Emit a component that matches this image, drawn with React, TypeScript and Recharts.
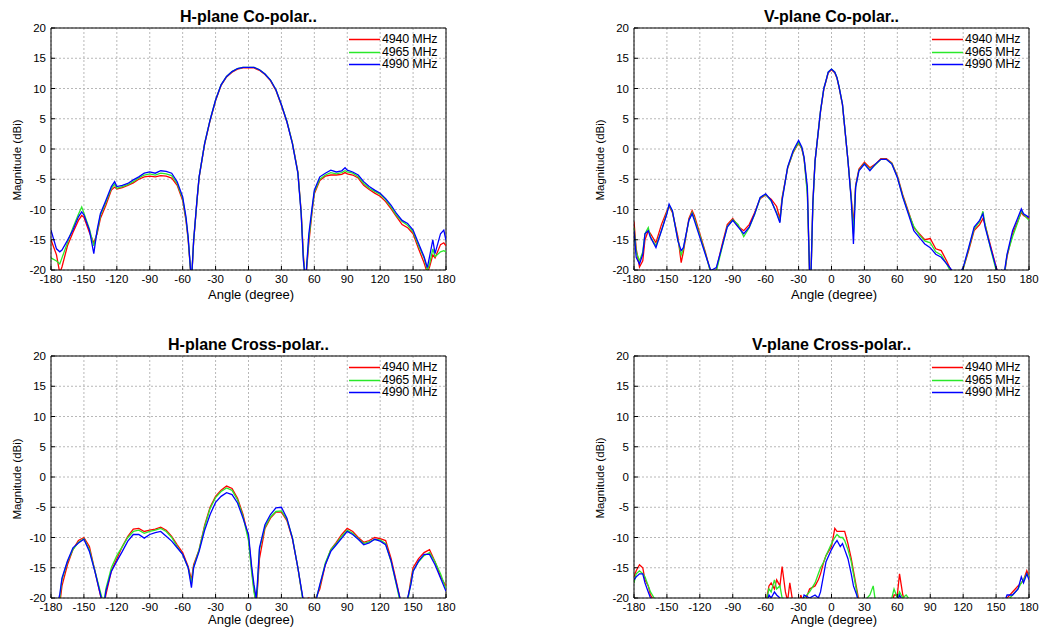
import React from "react";
import { LineChart, Line, XAxis, YAxis, CartesianGrid, ReferenceLine } from "recharts";

const FONT = '"Liberation Sans", Arial, sans-serif';

const xTicks = [-180, -150, -120, -90, -60, -30, 0, 30, 60, 90, 120, 150, 180];
const yTicks = [-20, -15, -10, -5, 0, 5, 10, 15, 20];
const seriesNames = ["4940 MHz", "4965 MHz", "4990 MHz"];
const seriesKeys = ["f4940", "f4965", "f4990"];
const seriesColors = ["#ff0000", "#2ae82a", "#0000ff"];

// H-plane Co-polar
const hCoAngles = [
  -180, -175, -172, -170, -165, -160, -155, -152, -150, -145,
  -141, -138, -135, -130, -125, -122, -120, -115, -110, -105,
  -100, -95, -90, -85, -80, -75, -70, -65, -60, -57,
  -55, -52, -50, -47, -45, -40, -35, -30, -25, -20,
  -15, -10, -5, 0, 5, 10, 15, 20, 25, 30,
  35, 40, 45, 48, 50, 52, 55, 58, 60, 65,
  70, 75, 80, 85, 88, 90, 95, 100, 105, 110,
  115, 120, 125, 130, 135, 140, 145, 150, 155, 160,
  163, 165, 168, 170, 175, 178, 180,
];
const hCo4940 = [
  -15.0, -17.5, -20.5, -19.5, -16.0, -13.8, -11.8, -11.0, -11.3, -13.8,
  -15.5, -14.0, -11.5, -9.3, -6.8, -6.3, -6.6, -6.4, -6.0, -5.6,
  -5.0, -4.6, -4.5, -4.6, -4.4, -4.5, -4.8, -6.0, -8.5, -11.8,
  -15.0, -22, -15.3, -8.7, -4.7, 0.8, 4.7, 8.0, 10.5, 11.9,
  12.7, 13.2, 13.4, 13.4, 13.4, 13.0, 12.3, 11.3, 9.7, 7.2,
  4.5, 1.0, -3.8, -10.3, -17.5, -22, -15.5, -10.3, -7.4, -5.2,
  -4.5, -4.3, -4.3, -4.2, -3.9, -4.1, -4.3, -4.8, -6.0, -6.7,
  -7.3, -7.8, -8.7, -9.9, -11.2, -12.5, -13.0, -14.0, -16.5, -18.8,
  -20.5, -19.5, -17.5, -18.0, -15.8, -15.5, -16.0,
];
const hCo4965 = [
  -18.0, -18.5, -19.0, -18.0, -15.5, -13.0, -10.8, -9.6, -10.6, -13.2,
  -16.0, -13.8, -11.0, -8.8, -6.5, -5.8, -6.5, -6.2, -5.9, -5.4,
  -4.8, -4.3, -4.1, -4.3, -4.0, -4.1, -4.4, -5.7, -8.2, -11.5,
  -14.8, -22, -15.2, -8.6, -4.6, 0.9, 4.8, 8.1, 10.6, 12.0,
  12.8, 13.3, 13.5, 13.5, 13.5, 13.1, 12.4, 11.4, 9.8, 7.3,
  4.6, 1.0, -3.9, -10.5, -18.0, -22, -14.8, -10.0, -7.1, -5.0,
  -4.3, -3.9, -4.1, -3.9, -3.6, -3.8, -4.0, -4.6, -5.7, -6.5,
  -7.0, -7.5, -8.4, -9.6, -11.0, -12.0, -12.6, -13.7, -16.0, -18.0,
  -20.0, -19.0, -16.5, -17.8, -17.0, -16.8, -17.0,
];
const hCo4990 = [
  -13.4, -16.5, -17.0, -16.7, -15.1, -13.4, -11.2, -10.4, -10.9, -13.4,
  -17.3, -13.4, -10.7, -8.5, -6.2, -5.4, -6.2, -6.0, -5.7, -5.1,
  -4.6, -4.0, -3.8, -4.0, -3.6, -3.7, -4.0, -5.4, -7.9, -11.2,
  -14.5, -22, -15.1, -8.5, -4.6, 0.9, 4.8, 8.1, 10.6, 12.0,
  12.8, 13.3, 13.5, 13.5, 13.5, 13.1, 12.4, 11.4, 9.8, 7.3,
  4.5, 0.9, -4.0, -10.7, -18.4, -22, -14.0, -9.6, -6.8, -4.6,
  -4.0, -3.5, -3.8, -3.6, -3.1, -3.5, -3.8, -4.3, -5.4, -6.2,
  -6.8, -7.3, -8.2, -9.3, -10.7, -11.8, -12.3, -13.4, -15.6, -17.8,
  -19.6, -17.8, -15.0, -17.3, -14.0, -13.4, -15.1,
];

// V-plane Co-polar
const vCoAngles = [
  -180, -178, -175, -172, -170, -167, -165, -160, -155, -150,
  -148, -145, -140, -137, -135, -130, -127, -125, -120, -115,
  -110, -105, -100, -95, -90, -85, -80, -75, -70, -65,
  -60, -55, -50, -47, -45, -40, -35, -30, -27, -25,
  -22, -20, -19, -17, -15, -10, -7, -5, -3, 0, 3, 5, 7, 10,
  15, 18, 20, 22, 25, 30, 35, 40, 45, 50,
  55, 60, 65, 70, 75, 80, 85, 90, 95, 100,
  105, 110, 115, 120, 125, 130, 135, 138, 140, 145,
  150, 153, 155, 157, 160, 165, 170, 173, 175, 180,
];
const vCo4940 = [
  -12.0, -16.5, -19.5, -18.5, -15.0, -13.5, -14.0, -15.5, -12.5, -10.2,
  -9.5, -10.5, -14.5, -18.8, -17.0, -11.5, -10.2, -11.0, -14.0, -17.0,
  -20.5, -20.0, -16.0, -12.5, -11.5, -12.8, -13.5, -12.5, -10.5, -8.2,
  -7.6, -8.3, -9.5, -11.5, -8.0, -3.2, -0.6, 1.0, 0.0, -1.6,
  -7.0, -20.5, -23, -9.0, -2.0, 6.2, 9.9, 11.2, 12.6, 13.1, 12.6, 11.7, 10.1, 7.3,
  -1.9, -8.0, -12.5, -6.0, -3.3, -2.2, -3.1, -2.5, -1.6, -1.6,
  -2.3, -4.4, -7.6, -10.3, -13.0, -14.0, -15.0, -14.8, -16.5, -16.8,
  -18.5, -20.5, -21.5, -19.8, -16.8, -13.5, -12.5, -11.5, -12.5, -16.0,
  -19.5, -21.0, -20.5, -21.5, -17.8, -14.0, -11.8, -10.5, -11.0, -11.5,
];
const vCo4965 = [
  -13.0, -17.0, -18.5, -17.0, -14.0, -13.0, -14.5, -16.0, -13.5, -10.5,
  -9.3, -10.3, -15.0, -17.5, -16.5, -11.8, -10.5, -11.5, -14.3, -17.2,
  -20.5, -20.2, -16.5, -12.8, -11.7, -12.5, -14.5, -13.0, -10.8, -8.1,
  -7.5, -8.6, -10.5, -12.0, -8.3, -3.1, -0.5, 1.1, 0.1, -1.5,
  -7.5, -20.5, -23, -9.5, -2.0, 6.3, 10.0, 11.3, 12.7, 13.2, 12.7, 11.8, 10.2, 7.4,
  -1.9, -8.2, -14.0, -6.2, -3.5, -2.4, -3.4, -2.6, -1.7, -1.7,
  -2.4, -4.6, -7.8, -10.5, -12.8, -14.2, -15.2, -15.5, -17.0, -17.5,
  -19.0, -20.8, -21.5, -19.8, -16.5, -13.2, -12.0, -10.3, -12.5, -16.5,
  -20.0, -21.5, -21.0, -21.5, -17.5, -14.5, -12.0, -10.2, -10.8, -11.8,
];
const vCo4990 = [
  -13.5, -17.9, -19.0, -17.4, -14.0, -13.5, -14.6, -16.3, -13.5, -10.7,
  -9.1, -10.2, -15.2, -16.8, -16.3, -11.8, -10.7, -11.8, -14.6, -17.4,
  -20.1, -19.6, -16.3, -12.9, -11.8, -12.9, -14.0, -12.9, -10.7, -8.0,
  -7.4, -8.5, -10.7, -12.2, -8.5, -3.0, -0.3, 1.4, 0.3, -1.4,
  -6.3, -20.5, -23, -9.0, -2.0, 6.3, 10.0, 11.3, 12.7, 13.2, 12.7, 11.8, 10.2, 7.4,
  -1.9, -8.5, -15.7, -6.3, -3.6, -2.5, -3.6, -2.5, -1.7, -1.7,
  -2.5, -4.7, -8.0, -10.7, -13.5, -14.6, -15.7, -16.3, -17.4, -17.9,
  -19.0, -20.1, -21.0, -19.6, -16.3, -12.9, -11.8, -10.7, -12.9, -16.3,
  -19.6, -21.0, -20.1, -21.0, -17.4, -13.5, -11.3, -9.9, -10.7, -11.3,
];

// H-plane Cross-polar
const hXAngles = [
  -180, -175, -172, -170, -165, -160, -155, -150, -145, -140,
  -135, -132, -130, -125, -120, -115, -110, -105, -100, -95,
  -90, -85, -80, -75, -70, -65, -60, -55, -52, -50,
  -45, -40, -35, -30, -25, -20, -15, -10, -5, 0,
  3, 5, 7, 8, 10, 15, 20, 25, 30, 35,
  40, 45, 48, 50, 55, 60, 65, 70, 75, 80,
  85, 90, 95, 100, 105, 110, 115, 120, 125, 130,
  135, 138, 140, 145, 148, 150, 155, 160, 165, 170,
  175, 180,
];
const hX4940 = [
  -20.0, -22.0, -21.0, -18.0, -14.5, -12.0, -10.5, -10.0, -11.5, -15.5,
  -19.5, -21.5, -19.5, -15.5, -13.5, -11.5, -9.8, -8.6, -8.5, -9.0,
  -8.8, -8.6, -8.3, -8.8, -9.8, -11.2, -12.5, -14.8, -17.0, -14.5,
  -12.0, -8.0, -5.0, -3.2, -2.2, -1.5, -1.9, -3.5, -6.2, -10.0,
  -15.5, -18.5, -21.0, -19.0, -13.5, -8.5, -6.8, -5.8, -5.8, -7.2,
  -10.2, -15.0, -18.5, -20.5, -20.0, -20.5, -18.5, -14.5, -12.0, -10.8,
  -9.5, -8.5, -9.0, -10.0, -10.8, -10.5, -10.0, -10.2, -10.5, -13.5,
  -17.5, -20.0, -21.0, -20.5, -17.0, -15.0, -13.5, -12.5, -12.0, -14.0,
  -16.5, -18.0,
];
const hX4965 = [
  -20.5, -21.5, -20.0, -17.0, -14.0, -12.0, -10.8, -10.2, -12.0, -15.5,
  -19.0, -21.0, -18.5, -15.0, -13.0, -11.5, -10.0, -9.0, -8.8, -9.3,
  -9.0, -8.8, -8.5, -9.0, -10.0, -11.5, -12.8, -15.0, -17.5, -14.8,
  -12.0, -8.2, -5.2, -3.4, -2.4, -1.8, -2.2, -3.8, -6.5, -10.5,
  -16.0, -19.0, -21.0, -18.5, -12.0, -8.3, -6.6, -5.7, -5.6, -7.0,
  -10.0, -15.0, -18.5, -21.0, -21.5, -21.0, -18.0, -14.2, -12.0, -11.0,
  -9.8, -8.8, -9.3, -10.2, -11.0, -10.7, -10.3, -10.4, -11.0, -14.0,
  -18.0, -20.5, -21.5, -20.5, -17.5, -15.5, -14.0, -13.0, -12.5, -14.0,
  -16.0, -18.5,
];
const hX4990 = [
  -21.0, -21.6, -19.4, -16.7, -13.9, -11.7, -10.9, -10.3, -12.3, -15.6,
  -19.4, -21.6, -18.9, -15.6, -13.9, -12.3, -10.6, -9.5, -9.5, -10.1,
  -9.5, -9.2, -9.0, -9.8, -10.6, -11.7, -12.8, -15.0, -18.3, -15.0,
  -12.3, -8.8, -6.2, -4.2, -3.2, -2.6, -2.9, -4.3, -6.8, -9.5,
  -15.0, -17.8, -20.0, -17.8, -11.7, -7.9, -6.2, -5.1, -5.0, -6.8,
  -10.1, -15.0, -18.3, -20.5, -21.6, -21.6, -17.8, -14.5, -12.3, -11.2,
  -10.1, -9.0, -9.5, -10.3, -11.2, -10.9, -10.3, -10.6, -11.2, -13.9,
  -17.8, -20.0, -21.6, -20.0, -17.8, -15.6, -13.9, -12.8, -12.8, -14.5,
  -16.7, -18.9,
];

// V-plane Cross-polar
const vXAngles = [
  -180, -178, -175, -172, -170, -167, -165, -160, -155, -140,
  -100, -65, -60, -57, -55, -52, -50, -47, -45, -42,
  -40, -38, -35, -30, -28, -25, -20, -15, -12, -10,
  -7, -5, 0, 3, 5, 8, 10, 12, 15, 18,
  20, 23, 25, 28, 30, 35, 38, 40, 45, 50,
  55, 57, 60, 62, 65, 68, 70, 75, 80, 100,
  140, 155, 160, 165, 170, 173, 175, 178, 180,
];
const vX4940 = [
  -16.5, -15.5, -14.5, -15.0, -17.0, -18.0, -19.5, -21.0, -22, -22,
  -22, -22, -21.0, -18.0, -17.5, -18.5, -17.0, -18.0, -14.8, -19.0,
  -20.5, -17.5, -21.0, -22, -19.5, -21.0, -18.5, -18.0, -17.0, -16.0,
  -14.0, -13.0, -11.5, -8.5, -9.0, -9.0, -9.0, -9.0, -11.0, -13.5,
  -15.5, -18.5, -20.5, -22, -22, -22, -22, -22, -22, -22,
  -21.0, -19.5, -19.5, -16.0, -19.5, -21.0, -22, -22, -22, -22,
  -22, -22, -20.0, -19.0, -18.0, -17.5, -17.0, -15.5, -16.5,
];
const vX4965 = [
  -17.5, -16.0, -15.5, -16.0, -16.5, -18.0, -19.0, -20.5, -22, -22,
  -22, -22, -21.0, -18.5, -19.0, -17.0, -18.5, -18.0, -20.0, -20.5,
  -21.0, -21.5, -22, -22, -22, -20.0, -19.0, -17.5, -16.0, -15.0,
  -14.0, -13.0, -11.0, -10.0, -9.5, -10.0, -10.0, -10.5, -12.0, -14.0,
  -16.0, -19.0, -21.0, -22, -20.5, -19.5, -18.0, -20.5, -22, -22,
  -20.0, -18.5, -20.0, -19.0, -20.0, -19.5, -20.0, -20.5, -22, -22,
  -22, -22, -20.5, -19.5, -18.5, -17.5, -17.0, -16.0, -16.5,
];
const vX4990 = [
  -17.0, -16.5, -16.0, -16.0, -17.5, -19.0, -20.0, -20.5, -22, -22,
  -22, -22, -21.5, -19.5, -20.0, -19.0, -19.5, -20.0, -20.5, -21.0,
  -22, -22, -22, -22, -22, -19.5, -20.0, -19.5, -20.0, -19.0,
  -16.0, -14.0, -12.0, -11.0, -10.5, -11.5, -11.0, -12.0, -13.5, -16.0,
  -18.0, -19.5, -21.0, -22, -22, -22, -22, -22, -22, -22,
  -22, -21.0, -20.5, -19.5, -20.5, -22, -22, -22, -22, -22,
  -22, -22, -19.5, -19.5, -18.5, -16.5, -17.5, -16.0, -17.0,
];

function buildRows(angles: number[], a: number[], b: number[], c: number[]) {
  return angles.map((angle, i) => ({ angle, f4940: a[i], f4965: b[i], f4990: c[i] }));
}

type PanelProps = {
  title: string;
  rows: any[];
  left: number;
  top: number;
  yLabelY: number;
  xLabelY: number;
};

function Panel({ title, rows, left, top, yLabelY, xLabelY }: PanelProps) {
  return (
    <div style={{ position: "absolute", left, top, width: 460, height: 310, fontFamily: FONT }}>
      <LineChart width={460} height={310} data={rows} margin={{ top: 28, right: 14, bottom: 0, left: 0 }}>
        <CartesianGrid stroke="#b8b8b8" strokeDasharray="2 2" />
        <XAxis
          dataKey="angle"
          type="number"
          domain={[-180, 180]}
          ticks={xTicks}
          interval={0}
          allowDataOverflow
          height={40}
          tickSize={-4}
          tickMargin={9}
          axisLine={{ stroke: "#000" }}
          tickLine={{ stroke: "#000" }}
          tick={{ fill: "#000", fontSize: 11.5, fontFamily: FONT }}
        />
        <YAxis
          type="number"
          domain={[-20, 20]}
          ticks={yTicks}
          interval={0}
          allowDataOverflow
          width={51}
          tickSize={-4}
          tickMargin={9}
          axisLine={{ stroke: "#000" }}
          tickLine={{ stroke: "#000" }}
          tick={{ fill: "#000", fontSize: 11.5, fontFamily: FONT }}
        />
        <ReferenceLine y={20} stroke="#000" />
        <ReferenceLine x={180} stroke="#000" />
        {seriesKeys.map((k, i) => (
          <Line
            key={k}
            type="linear"
            dataKey={k}
            stroke={seriesColors[i]}
            strokeWidth={1.3}
            dot={false}
            isAnimationActive={false}
          />
        ))}
      </LineChart>
      <div
        style={{
          position: "absolute",
          left: 51,
          top: 7,
          width: 395,
          textAlign: "center",
          fontWeight: "bold",
          fontSize: 16,
          lineHeight: "20px",
        }}
      >
        {title}
      </div>
      <div
        style={{
          position: "absolute",
          left: 51,
          top: xLabelY - 8,
          width: 400,
          textAlign: "center",
          fontSize: 13,
          lineHeight: "16px",
        }}
      >
        Angle (degree)
      </div>
      <div
        style={{
          position: "absolute",
          left: 17,
          top: yLabelY,
          fontSize: 11.5,
          lineHeight: "14px",
          whiteSpace: "nowrap",
          transform: "translate(-50%, -50%) rotate(-90deg)",
        }}
      >
        Magnitude (dBi)
      </div>
      <div style={{ position: "absolute", left: 348, top: 33, fontSize: 12.5, letterSpacing: -0.2 }}>
        {seriesNames.map((n, i) => (
          <div key={n} style={{ display: "flex", alignItems: "center", height: 12.5, lineHeight: "12.5px" }}>
            <svg width={34} height={12} style={{ flex: "none" }}>
              <line x1={1} x2={32} y1={6.5} y2={6.5} stroke={seriesColors[i]} strokeWidth={1.5} />
            </svg>
            <span>{n}</span>
          </div>
        ))}
      </div>
    </div>
  );
}

export default function App() {
  return (
    <div
      style={{
        position: "absolute",
        left: 0,
        top: 0,
        width: 1041,
        height: 629,
        background: "#fff",
        overflow: "hidden",
      }}
    >
      <Panel title="H-plane Co-polar.." rows={buildRows(hCoAngles, hCo4940, hCo4965, hCo4990)} left={0} top={0} yLabelY={160} xLabelY={295} />
      <Panel title="V-plane Co-polar.." rows={buildRows(vCoAngles, vCo4940, vCo4965, vCo4990)} left={583} top={0} yLabelY={160} xLabelY={295} />
      <Panel title="H-plane Cross-polar.." rows={buildRows(hXAngles, hX4940, hX4965, hX4990)} left={0} top={328} yLabelY={151} xLabelY={292} />
      <Panel title="V-plane Cross-polar.." rows={buildRows(vXAngles, vX4940, vX4965, vX4990)} left={583} top={328} yLabelY={150} xLabelY={292} />
    </div>
  );
}
